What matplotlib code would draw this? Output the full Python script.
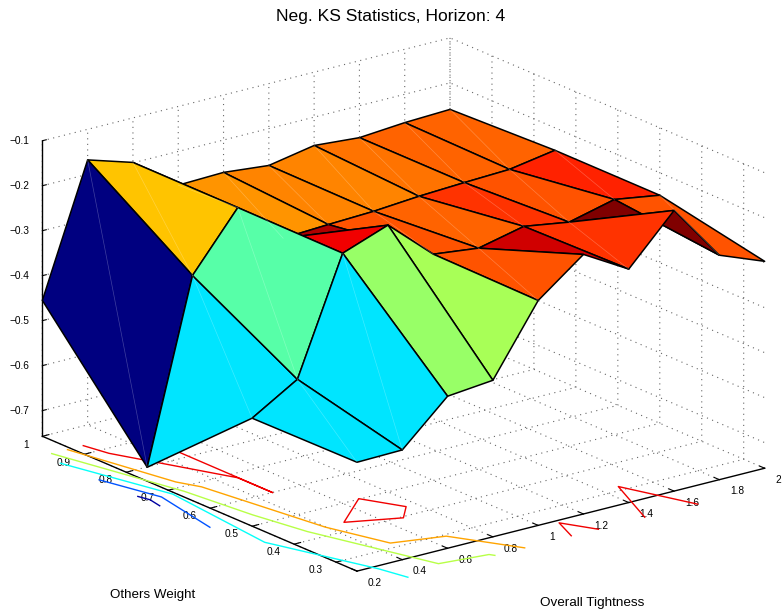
import numpy as np
import matplotlib
matplotlib.use('Agg')
from matplotlib import pyplot as plt
from matplotlib import colors

plt.rcParams['font.family'] = ['Liberation Sans', 'DejaVu Sans']

title = 'Neg. KS Statistics, Horizon: 4'
tightness = [0.2, 0.4, 0.6, 0.8, 1.0, 1.2, 1.4, 1.6, 1.8, 2.0]
weights = [0.25, 0.5, 0.75, 1.0]

# one row per weight, columns follow tightness
z_w025 = [-.515, -.513, -.419, -.409, -.257, -.180, -.238, -.133, -.258, -.297]
z_w050 = [-.517, -.456, -.201, -.164, -.254, -.266, -.243, -.259, -.234, -.250]
z_w075 = [-.726, -.325, -.1995, -.293, -.288, -.284, -.276, -.271, -.267, -.250]
z_w100 = [-.455, -.168, -.199, -.275, -.272, -.282, -.263, -.271, -.263, -.259]

levels = [-0.7, -0.6, -0.5, -0.4, -0.3, -0.2]
tight_ticks = [0.2, 0.4, 0.6, 0.8, 1.0, 1.2, 1.4, 1.6, 1.8, 2.0]
tight_labels = ['0.2', '0.4', '0.6', '0.8', '1', '1.2', '1.4', '1.6', '1.8', '2']
weight_ticks = [0.3, 0.4, 0.5, 0.6, 0.7, 0.8, 0.9, 1.0]
weight_labels = ['0.3', '0.4', '0.5', '0.6', '0.7', '0.8', '0.9', '1']
z_ticks = [-0.7, -0.6, -0.5, -0.4, -0.3, -0.2, -0.1]
z_labels = ['\u22120.7', '\u22120.6', '\u22120.5', '\u22120.4', '\u22120.3', '\u22120.2', '\u22120.1']

# matlab's jet is a bit different from the matplotlib one
jet64 = colors.LinearSegmentedColormap('jet64', {
    'red': [(0, 0, 0), (3/8, 0, 0), (5/8, 1, 1), (7/8, 1, 1), (1, .5, .5)],
    'green': [(0, 0, 0), (1/8, 0, 0), (3/8, 1, 1), (5/8, 1, 1), (7/8, 0, 0), (1, 0, 0)],
    'blue': [(0, .5, .5), (1/8, 1, 1), (3/8, 1, 1), (5/8, 0, 0), (1, 0, 0)]}, N=64)

T, W = np.meshgrid(tightness, weights)
Z = np.array([z_w025, z_w050, z_w075, z_w100])

fig = plt.figure(figsize=(7.84, 6.13), dpi=100)
# square axes, placed so the box lands where it does in the original
ax = fig.add_axes([95.4 / 784, 0.4 / 613, 600 / 784, 600 / 613], projection='3d')
ax.set_proj_type('ortho')
ax.view_init(elev=19.2, azim=-127.5)
ax.set_box_aspect((514, 517, 313), zoom=1.2833)
ax.computed_zorder = False
ax.patch.set_alpha(0)

norm = colors.Normalize(Z.min(), Z.max())
cs = ax.contour(T, W, Z, levels=levels, offset=-0.8, cmap=jet64, norm=norm,
                linewidths=1.0, zorder=1)
cs.set_clip_on(False)
surf = ax.plot_surface(T, W, Z, facecolors=jet64(norm(Z)), shade=False,
                       edgecolor='black', linewidth=1.1, antialiased=True, zorder=2)
surf.set_clip_on(False)

# faint seams across the quads, left out where a fold hides them
hidden = [(2, 1), (3, 1), (3, 0), (5, 0), (7, 0), (2, 0)]
for r in range(Z.shape[0] - 1):
    for c in range(Z.shape[1] - 1):
        if (c, r) in hidden:
            continue
        ax.plot([T[r, c], T[r + 1, c + 1]], [W[r, c], W[r + 1, c + 1]],
                [Z[r, c], Z[r + 1, c + 1]], color='white', alpha=0.25, lw=0.5,
                zorder=3, clip_on=False)

ax.set_xlim(0.2, 2)
ax.set_ylim(0.25, 1)
ax.set_zlim(-0.757, -0.1)
ax.set_xticks(tight_ticks, tight_labels)
ax.set_yticks(weight_ticks, weight_labels)
ax.set_zticks(z_ticks, z_labels)

for axis in (ax.xaxis, ax.yaxis, ax.zaxis):
    axis.set_pane_color((1, 1, 1, 0))
    axis.pane.set_edgecolor('none')
    axis.line.set_color('black')
    axis.line.set_linewidth(1.0)
    axis._axinfo['grid'].update(color='#666666', linestyle=(0, (1, 4)), linewidth=0.8)
    axis._axinfo['tick'].update(inward_factor=0.0, outward_factor=0.2, linewidth={True: 0.8, False: 0.5})
    axis.set_tick_params(labelsize=7.3, colors='black')
ax.zaxis._axinfo['tick'].update(outward_factor=0.12)

ax.xaxis.set_tick_params(pad=-0.3)
ax.yaxis.set_tick_params(pad=-0.5)
ax.zaxis.set_tick_params(pad=-1)
for lab in ax.xaxis.get_ticklabels():
    lab.set_ha('left')
    lab.set_va('baseline')
for lab in ax.yaxis.get_ticklabels():
    lab.set_ha('right')
    lab.set_va('bottom')
for lab in ax.zaxis.get_ticklabels():
    lab.set_va('center_baseline')

fig.text(391 / 784, 1 - 16 / 613, title, ha='center', va='center', fontsize=12.6)
fig.text(152.5 / 784, 1 - 595 / 613, 'Others Weight', ha='center', va='center', fontsize=9.6)
fig.text(592.5 / 784, 1 - 603 / 613, 'Overall Tightness', ha='center', va='center', fontsize=9.7)

fig.savefig('out.png', dpi=100)
